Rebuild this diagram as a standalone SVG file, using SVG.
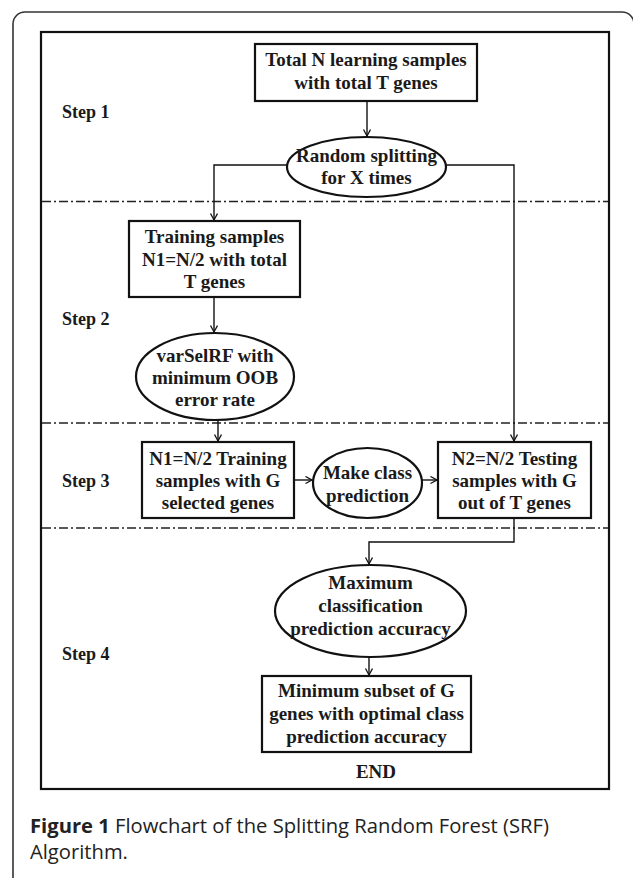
<svg xmlns="http://www.w3.org/2000/svg" width="633" height="878" viewBox="0 0 633 878">
<defs>
<marker id="arr" markerWidth="10" markerHeight="10" refX="7" refY="4" orient="auto" markerUnits="userSpaceOnUse">
<path d="M0.5,0.5 L7,4 L0.5,7.5" fill="none" stroke="#111" stroke-width="1.3"/>
</marker>
<style>
.node{fill:#fff;stroke:#111;stroke-width:2.2}
.t{font-family:"Liberation Serif","Times New Roman",serif;font-weight:bold;font-size:19px;fill:#1a1a1a;text-anchor:middle}
.step{font-family:"Liberation Serif","Times New Roman",serif;font-weight:bold;font-size:18px;fill:#1a1a1a}
.c{fill:none;stroke:#111;stroke-width:1.4}
.dd{fill:none;stroke:#222;stroke-width:1.4;stroke-dasharray:9 3 2 3}
.cap{font-family:"Open Sans","Noto Sans",sans-serif;font-size:20.2px;fill:#222}
</style>
</defs>
<rect width="633" height="878" fill="#fff"/>
<rect id="card" x="13" y="12" width="621" height="900" rx="12" fill="none" stroke="#333" stroke-width="1.6"/>
<rect id="frame" x="41" y="32" width="568" height="757" fill="none" stroke="#111" stroke-width="2.2"/>
<g id="separators">
<line class="dd" x1="42" y1="201.5" x2="608" y2="201.5"/>
<line class="dd" x1="42" y1="423" x2="608" y2="423"/>
<line class="dd" x1="42" y1="528" x2="608" y2="528"/>
</g>
<g id="steps">
<text class="step" x="62" y="118">Step 1</text>
<text class="step" x="62" y="325">Step 2</text>
<text class="step" x="62" y="487">Step 3</text>
<text class="step" x="62" y="660">Step 4</text>
</g>
<g id="connectors">
<line class="c" x1="367" y1="101" x2="367" y2="136" marker-end="url(#arr)"/>
<polyline class="c" points="287,165 214,165 214,220" marker-end="url(#arr)"/>
<polyline class="c" points="446,165 514,165 514,441" marker-end="url(#arr)"/>
<line class="c" x1="214" y1="297" x2="214" y2="332" marker-end="url(#arr)"/>
<line class="c" x1="218" y1="420" x2="218" y2="441" marker-end="url(#arr)"/>
<line class="c" x1="294" y1="480" x2="312" y2="480" marker-end="url(#arr)"/>
<line class="c" x1="422" y1="480" x2="437" y2="480" marker-end="url(#arr)"/>
<polyline class="c" points="514,518 514,542 369,542 369,564" marker-end="url(#arr)"/>
<line class="c" x1="369" y1="657" x2="369" y2="675" marker-end="url(#arr)"/>
</g>
<g id="n-total">
<rect class="node" x="255" y="44" width="222" height="57"/>
<text class="t" x="366" y="66">Total N learning samples</text>
<text class="t" x="366" y="89">with total T genes</text>
</g>
<g id="n-split">
<ellipse class="node" cx="366.5" cy="167" rx="79.5" ry="30"/>
<text class="t" x="366.5" y="162">Random splitting</text>
<text class="t" x="366.5" y="184">for X times</text>
</g>
<g id="n-train">
<rect class="node" x="129" y="221" width="171" height="76"/>
<text class="t" x="214.5" y="243">Training samples</text>
<text class="t" x="214.5" y="266">N1=N/2 with total</text>
<text class="t" x="214.5" y="288">T genes</text>
</g>
<g id="n-varsel">
<ellipse class="node" cx="215" cy="376.5" rx="79" ry="43.5"/>
<text class="t" x="215" y="362">varSelRF with</text>
<text class="t" x="215" y="384">minimum OOB</text>
<text class="t" x="215" y="406">error rate</text>
</g>
<g id="n-n1">
<rect class="node" x="142" y="442" width="152" height="76"/>
<text class="t" x="218" y="465">N1=N/2 Training</text>
<text class="t" x="218" y="487">samples with G</text>
<text class="t" x="218" y="509">selected genes</text>
</g>
<g id="n-make">
<ellipse class="node" cx="367.5" cy="483" rx="54.5" ry="35"/>
<text class="t" x="367.5" y="479">Make class</text>
<text class="t" x="367.5" y="502">prediction</text>
</g>
<g id="n-n2">
<rect class="node" x="438" y="442" width="153" height="76"/>
<text class="t" x="514.5" y="465">N2=N/2 Testing</text>
<text class="t" x="514.5" y="487">samples with G</text>
<text class="t" x="514.5" y="509">out of T genes</text>
</g>
<g id="n-max">
<ellipse class="node" cx="370.5" cy="611" rx="95.5" ry="46"/>
<text class="t" x="370.5" y="589">Maximum</text>
<text class="t" x="370.5" y="612">classification</text>
<text class="t" x="370.5" y="635">prediction accuracy</text>
</g>
<g id="n-min">
<rect class="node" x="262" y="676" width="209" height="76"/>
<text class="t" x="366.5" y="697">Minimum subset of G</text>
<text class="t" x="366.5" y="720">genes with optimal class</text>
<text class="t" x="366.5" y="743">prediction accuracy</text>
</g>
<g id="end">
<text class="t" x="376" y="778">END</text>
</g>
<g id="caption">
<text class="cap" x="30" y="833"><tspan font-weight="bold">Figure 1</tspan> Flowchart of the Splitting Random Forest (SRF)</text>
<text class="cap" x="30" y="859">Algorithm.</text>
</g>
</svg>
